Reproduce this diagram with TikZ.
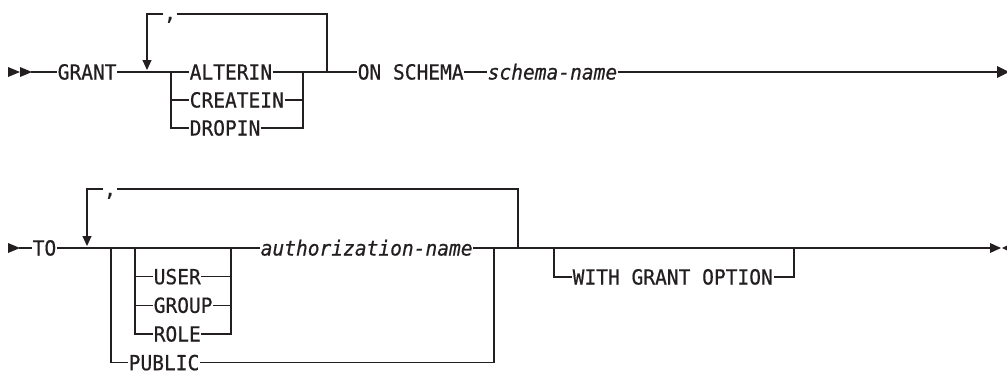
\documentclass[tikz,border=0pt]{standalone}
\usepackage{fontspec}
\newfontfamily\kwfont{DejaVu Sans Mono}[FakeStretch=0.94,FakeBold=0.6]
\usetikzlibrary{arrows.meta}
\definecolor{ink}{HTML}{231F20}
\begin{document}
\begin{tikzpicture}[x=1pt,y=-1pt,
  line/.style={draw=ink,line width=1.1pt},
  kw/.style={font={\kwfont\fontsize{20.8pt}{22pt}\selectfont}, text=ink, inner xsep=0.5pt, inner ysep=0pt, text height=15pt, text depth=0pt, anchor=west},
  var/.style={kw, font={\kwfont\itshape\fontsize{20.8pt}{22pt}\selectfont}},
  sep/.style={kw, anchor=base},
  loopline/.style={line, -{Triangle[width=9pt,length=10pt]}},
  tip/.style={fill=ink}
]
\useasboundingbox (0,0) rectangle (1007,370);

% ---------- line 1 ----------
\fill[tip] (8,67) -- (20,72) -- (8,77) -- cycle;
\fill[tip] (20,67) -- (32,72) -- (20,77) -- cycle;
\coordinate (s1) at (31,72);
\node[kw] (grant) at (57,72) {GRANT};
\coordinate (a1) at (171,72);
\coordinate (b1) at (303,72);
\coordinate (r1) at (327,72);
\coordinate (t1r) at (327,14);
\coordinate (t1l) at (147,14);
\coordinate (d1) at (147,70);
\node[sep] (c1) at (170,20) {,};
\node[kw] (alterin) at (189,72) {ALTERIN};
\node[kw] (createin) at (189,100) {CREATEIN};
\node[kw] (dropin) at (189,128) {DROPIN};
\node[kw] (on) at (357,72) {ON SCHEMA};
\node[var] (sname) at (487,72) {schema-name};
\coordinate (e1) at (999,72);

\draw[line] (s1) -- (grant.west);
\draw[line] (grant.east) -- (a1);
\draw[line] (a1) -- (alterin.west);
\draw[line] (alterin.east) -- (b1);
\draw[line] (a1) |- (dropin.west);
\draw[line] (a1 |- createin.west) -- (createin.west);
\draw[line] (createin.east) -- (createin.east -| b1);
\draw[line] (dropin.east) -| (b1);
\draw[line] (b1) -- (on.west);
\draw[line] (on.east) -- (sname.west);
\draw[line] (sname.east) -- (e1);
\draw[line] (r1) -- (t1r) -- (t1r -| c1.east);
\draw[loopline] (t1l -| c1.west) -- (t1l) -- (d1);
\fill[tip] (997,66) -- (1009,72) -- (997,78) -- cycle;

% ---------- line 2 ----------
\fill[tip] (8,243) -- (20,248) -- (8,253) -- cycle;
\coordinate (s2) at (19,248);
\node[kw] (to) at (32,248) {TO};
\coordinate (a2) at (111,248);
\coordinate (i2) at (135,248);
\coordinate (j2) at (231,248);
\coordinate (o2) at (494,248);
\coordinate (r2) at (518,248);
\coordinate (t2r) at (518,189);
\coordinate (t2l) at (87,189);
\coordinate (d2) at (87,246);
\coordinate (w2) at (554,248);
\coordinate (v2) at (794,248);
\coordinate (e2) at (991,248);
\node[sep] (c2) at (110,196) {,};
\node[kw] (user) at (153,276.7) {USER};
\node[kw] (group) at (153,305.3) {GROUP};
\node[kw] (role) at (153,334) {ROLE};
\node[kw] (public) at (128,362.7) {PUBLIC};
\node[var] (auth) at (260,248) {authorization-name};
\node[kw] (wgo) at (572,277) {WITH GRANT OPTION};

\draw[line] (s2) -- (to.west);
\draw[line] (to.east) -- (a2);
\draw[line] (a2) -- (i2);
\draw[line] (i2) -- (j2);
\draw[line] (j2) -- (auth.west);
\draw[line] (auth.east) -- (o2);
\draw[line] (o2) -- (r2);
\draw[line] (r2) -- (w2);
\draw[line] (w2) -- (v2);
\draw[line] (v2) -- (e2);
\draw[line] (a2) |- (public.west);
\draw[line] (public.east) -| (o2);
\draw[line] (i2) |- (role.west);
\draw[line] (i2 |- user.west) -- (user.west);
\draw[line] (i2 |- group.west) -- (group.west);
\draw[line] (user.east) -- (user.east -| j2);
\draw[line] (group.east) -- (group.east -| j2);
\draw[line] (role.east) -| (j2);
\draw[line] (w2) |- (wgo.west);
\draw[line] (wgo.east) -| (v2);
\draw[line] (r2) -- (t2r) -- (t2r -| c2.east);
\draw[loopline] (t2l -| c2.west) -- (t2l) -- (d2);
\fill[tip] (990,243) -- (1001,248) -- (990,253) -- cycle;
\fill[tip] (1002,248) -- (1012,243) -- (1012,253) -- cycle;
\end{tikzpicture}
\end{document}
